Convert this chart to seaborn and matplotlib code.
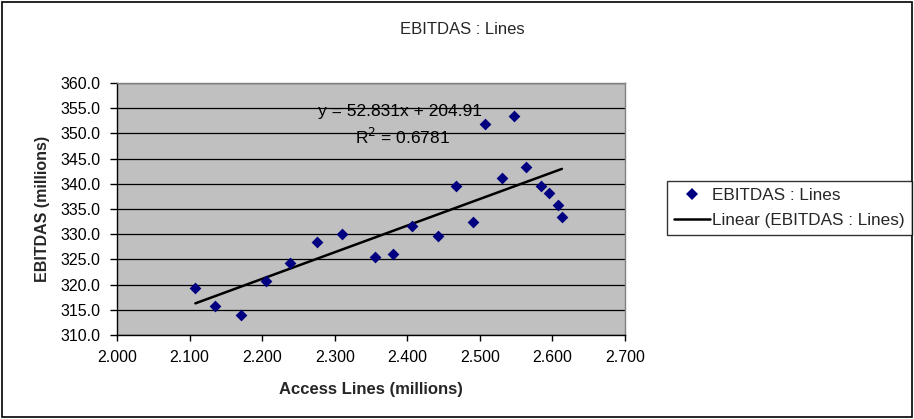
import matplotlib
matplotlib.use("Agg")
import matplotlib.pyplot as plt
import seaborn as sns
import numpy as np
import pandas as pd
from matplotlib.patches import Rectangle
from matplotlib.lines import Line2D

# ---- data ----
access_lines = [2.108, 2.135, 2.171, 2.206, 2.239, 2.275, 2.310, 2.356, 2.381,
                2.406, 2.443, 2.467, 2.491, 2.507, 2.531, 2.547, 2.564, 2.584,
                2.595, 2.607, 2.613]
ebitdas = [319.3, 315.8, 314.0, 320.7, 324.2, 328.4, 330.0, 325.4, 326.1,
           331.6, 329.7, 339.5, 332.4, 351.8, 341.2, 353.4, 343.3, 339.5,
           338.2, 335.8, 333.5]
trend_slope = 52.831
trend_intercept = 204.91
r_squared = 0.6781
x_ticks = [2.0, 2.1, 2.2, 2.3, 2.4, 2.5, 2.6, 2.7]
y_ticks = [310, 315, 320, 325, 330, 335, 340, 345, 350, 355, 360]

title = "EBITDAS : Lines"
series_name = "EBITDAS : Lines"
trend_name = "Linear (EBITDAS : Lines)"
x_label = "Access Lines (millions)"
y_label = "EBITDAS (millions)"

df = pd.DataFrame({"x": access_lines, "y": ebitdas})
trend_x = np.array([min(access_lines), max(access_lines)])
trend_df = pd.DataFrame({"x": trend_x, "y": trend_slope * trend_x + trend_intercept})

sns.set_theme(style="white")
plt.rcParams["font.family"] = ["Liberation Sans", "DejaVu Sans"]

W, H = 914, 419
fig = plt.figure(figsize=(W / 100, H / 100), dpi=100)
fig.patch.set_facecolor("white")
fig.patches.append(Rectangle((2 / W, 2 / H), (W - 4) / W, (H - 4) / H,
                             transform=fig.transFigure, fill=False,
                             edgecolor="black", linewidth=1.2))

ax = fig.add_axes([117 / W, (H - 335) / H, (625 - 117) / W, (335 - 83) / H])
ax.set_facecolor("#C0C0C0")

sns.lineplot(data=trend_df, x="x", y="y", ax=ax, color="black", linewidth=1.8,
             zorder=3, legend=False)
sns.scatterplot(data=df, x="x", y="y", ax=ax, marker="D", s=36, color="#000080",
                edgecolor="#000080", linewidth=0, zorder=4, legend=False)

ax.set_xlim(2.0, 2.7)
ax.set_ylim(310, 360)
ax.set_xticks(x_ticks)
ax.set_xticklabels([f"{v:.3f}" for v in x_ticks], fontsize=11.5)
ax.set_yticks(y_ticks)
ax.set_yticklabels([f"{v:.1f}" for v in y_ticks], fontsize=11.5)
ax.tick_params(axis="x", direction="out", length=4, width=1, color="black",
               labelcolor="black", pad=7, bottom=True)
ax.tick_params(axis="y", direction="out", length=5, width=1, color="black",
               labelcolor="black", pad=7, left=True)
ax.yaxis.grid(True, color="black", linewidth=0.9)
ax.xaxis.grid(False)
ax.set_axisbelow(True)

for side in ["left", "bottom"]:
    ax.spines[side].set_color("black")
    ax.spines[side].set_linewidth(1)
for side in ["top", "right"]:
    ax.spines[side].set_color("#808080")
    ax.spines[side].set_linewidth(1)

ax.set_xlabel(x_label, fontsize=12, fontweight="bold", labelpad=12)
ax.set_ylabel(y_label, fontsize=11.5, fontweight="bold", labelpad=7)

ax.text(2.390, 354.3, f"y = {trend_slope}x + {trend_intercept}", fontsize=12.5,
        ha="center", va="center", color="black", zorder=5)
ax.text(2.394, 349.3, f"R$^2$ = {r_squared}", fontsize=12.5,
        ha="center", va="center", color="black", zorder=5)

fig.text(462 / W, 1 - 30 / H, title, fontsize=12, ha="center", va="center")

handles = [
    Line2D([], [], marker="D", linestyle="none", color="#000080",
           markersize=6.5, markeredgewidth=0),
    Line2D([], [], color="black", linewidth=1.8),
]
leg = fig.legend(handles, [series_name, trend_name], loc="upper left",
                 bbox_to_anchor=(667 / W, 1 - 181 / H), fontsize=12.3,
                 frameon=True, fancybox=False, edgecolor="black",
                 borderpad=0.4, handlelength=2.1, handletextpad=0.15,
                 labelspacing=0.6, borderaxespad=0)
leg.get_frame().set_linewidth(1)

fig.savefig("out.png", dpi=100, facecolor="white")
